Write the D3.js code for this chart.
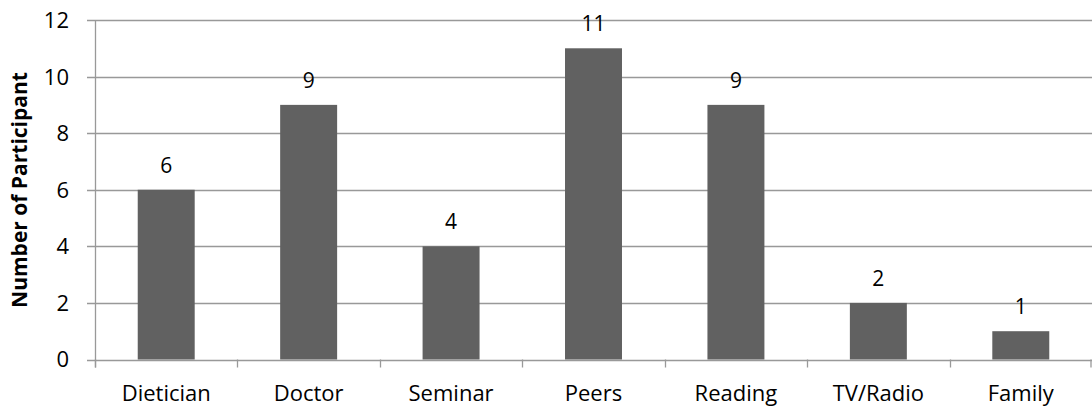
<!DOCTYPE html>
<html><head><meta charset="utf-8">
<script src="https://cdn.jsdelivr.net/npm/d3@7"></script>
<style>body{margin:0;background:#fff}svg{display:block}</style>
</head><body>
<script>
const categories = ["Dietician","Doctor","Seminar","Peers","Reading","TV/Radio","Family"];
const values = [6,9,4,11,9,2,1];
const yTicks = [0,2,4,6,8,10,12];
const yTitle = "Number of Participant";

const W = 1092, H = 406;
const m = {left:95, right:0, top:20, bottom:46};
const svg = d3.select("body").append("svg").attr("width",W).attr("height",H);
const font = "'Open Sans', sans-serif";

const x = d3.scaleBand().domain(categories).range([m.left, W - m.right]).paddingInner(0.6).paddingOuter(0.3);
const y0 = 359.5;
const y = d3.scaleLinear().domain([0,12]).range([y0, m.top]);

// gridlines
svg.append("g").selectAll("line").data(yTicks).join("line")
  .attr("x1", m.left-8).attr("x2", W).attr("y1", d=>Math.round(y(d))+0.5).attr("y2", d=>Math.round(y(d))+0.5)
  .attr("stroke","#999").attr("stroke-width",1.3);

// bars
svg.append("g").selectAll("rect").data(values).join("rect")
  .attr("x",(d,i)=>x(categories[i])).attr("width",x.bandwidth())
  .attr("y",d=>y(d)).attr("height",d=>y(0)-y(d)).attr("fill","#616161");

// y axis line
svg.append("line").attr("x1",m.left+0.5).attr("x2",m.left+0.5).attr("y1",m.top).attr("y2",y0+8).attr("stroke","#999").attr("stroke-width",1.3);

// x ticks at category boundaries
const bounds = d3.range(categories.length+1).map(i=>m.left + i*(W-m.left)/categories.length);
svg.append("g").selectAll("line").data(bounds).join("line")
  .attr("x1",d=>Math.min(Math.round(d)+0.5, W-1)).attr("x2",d=>Math.min(Math.round(d)+0.5, W-1))
  .attr("y1",y0).attr("y2",y0+8).attr("stroke","#999").attr("stroke-width",1.3);

// y tick labels
svg.append("g").selectAll("text").data(yTicks).join("text")
  .attr("x",69).attr("y",d=>y(d)).attr("dy","0.36em").attr("text-anchor","end")
  .attr("font-family",font).attr("font-size",22).attr("fill","#000").text(d=>d);

// x labels
svg.append("g").selectAll("text").data(categories).join("text")
  .attr("x",d=>x(d)+x.bandwidth()/2).attr("y",401).attr("text-anchor","middle")
  .attr("font-family",font).attr("font-size",22).attr("fill","#000").text(d=>d);

// value labels
svg.append("g").selectAll("text").data(values).join("text")
  .attr("x",(d,i)=>x(categories[i])+x.bandwidth()/2).attr("y",d=>y(d)-17).attr("text-anchor","middle")
  .attr("font-family",font).attr("font-size",21).attr("fill","#000").text(d=>d);

// y title
svg.append("text").attr("transform",`translate(27,190) rotate(-90)`)
  .attr("text-anchor","middle").attr("font-family",font).attr("font-size",21).attr("font-weight","bold")
  .attr("fill","#000").text(yTitle);
</script>
</body></html>
